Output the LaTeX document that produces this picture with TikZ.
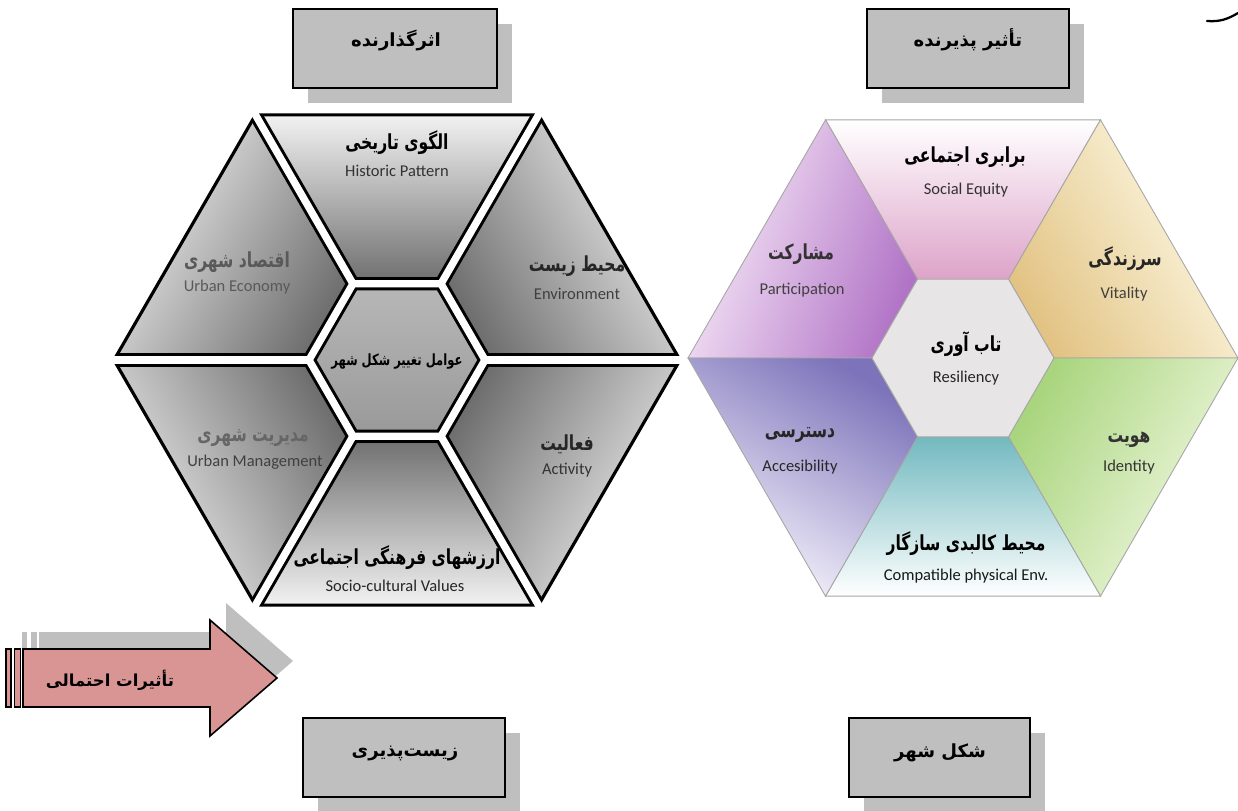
\documentclass[tikz,border=0pt]{standalone}
\usepackage{fontspec}
\setmainfont{Carlito}
\newfontfamily\fa[Script=Arabic]{DejaVu Sans}
\newfontfamily\fan[Script=Arabic, FakeStretch=0.75]{DejaVu Sans}
\TeXXeTstate=1
\usetikzlibrary{calc,shadows}
\definecolor{boxgray}{HTML}{BFBFBF}
\definecolor{arrowpink}{HTML}{D99594}
\definecolor{lgLight}{HTML}{F2F2F2}
\definecolor{lgDark}{HTML}{6E6E6E}
\definecolor{rPink}{HTML}{DDA3C9}
\definecolor{rPinkMid}{HTML}{F8E2F0}
\definecolor{rPurpleL}{HTML}{FBF0FB}
\definecolor{rPurpleD}{HTML}{B173C6}
\definecolor{rTanL}{HTML}{FFFDEB}
\definecolor{rTanD}{HTML}{E2C384}
\definecolor{rGreenL}{HTML}{F5FAE6}
\definecolor{rGreenD}{HTML}{A9D57E}
\definecolor{rTealD}{HTML}{72B9BF}
\definecolor{rTealM}{HTML}{C8E8EC}
\definecolor{rBlueL}{HTML}{FBF8FE}
\definecolor{rBlueD}{HTML}{7C73BA}
\definecolor{rCenter}{HTML}{E7E5E5}
\begin{document}
\begin{tikzpicture}[x=0.02cm,y=-0.02cm,
  box/.style={draw=black, line width=1.1pt, fill=boxgray, inner sep=0pt,
    drop shadow={shadow xshift=0.3cm, shadow yshift=-0.3cm, fill=boxgray, opacity=1}},
  boxtext/.style={font=\fa\bfseries\fontsize{10.3}{12}\selectfont, inner sep=0pt},
  arrowtext/.style={font=\fa\bfseries\fontsize{9.4}{12}\selectfont, inner sep=0pt},
  fatitle/.style={font=\fan\bfseries\fontsize{11.8}{13}\selectfont, inner sep=0pt},
  fasmall/.style={font=\fan\bfseries\fontsize{8.8}{10}\selectfont, inner sep=0pt},
  en/.style={font=\fontsize{9.4}{11}\selectfont, inner sep=0pt},
  lpiece/.style={top color=lgLight, bottom color=lgDark},
  rline/.style={draw=black!35, line width=0.5pt}
]
\useasboundingbox (0,0) rectangle (1238,811);

% ---------------- boxes ----------------
\node[box, minimum width=4.08cm, minimum height=1.58cm] (bTL) at (395,48.5) {};
\node[boxtext] (tTL) at (396,40) {\beginR اثرگذارنده\endR};
\node[box, minimum width=4.04cm, minimum height=1.58cm] (bTR) at (968,48.5) {};
\node[boxtext] (tTR) at (968,40) {\beginR تأثیر پذیرنده\endR};
\node[box, minimum width=4.04cm, minimum height=1.58cm] (bBL) at (404,757.5) {};
\node[boxtext] (tBL) at (405,753) {\beginR زیست‌پذیری\endR};
\node[box, minimum width=3.62cm, minimum height=1.58cm] (bBR) at (939.5,757.5) {};
\node[boxtext] (tBR) at (940,753) {\beginR شکل شهر\endR};

% small curve top right
\draw[line width=1.3pt, line cap=round] (1207,21) .. controls (1220,22) and (1228,19) .. (1238,13);

% ---------------- left hexagon ----------------
\coordinate (L) at (397,360);
\foreach \i in {0,...,5}{
  \coordinate (LO\i) at ($(L)+(\i*60:283)$);
  \coordinate (LI\i) at ($(L)+(\i*60:88)$);
  \coordinate (LX\i) at ($(L)+(\i*60:300)$);
}
\shade[lpiece, shading angle=0]    (LO4)--(LO5)--(LI5)--(LI4)--cycle;
\shade[lpiece, shading angle=60]   (LO3)--(LO4)--(LI4)--(LI3)--cycle;
\shade[lpiece, shading angle=-60]  (LO5)--(LO0)--(LI0)--(LI5)--cycle;
\shade[lpiece, shading angle=-120] (LO0)--(LO1)--(LI1)--(LI0)--cycle;
\shade[lpiece, shading angle=180]  (LO1)--(LO2)--(LI2)--(LI1)--cycle;
\shade[lpiece, shading angle=120]  (LO2)--(LO3)--(LI3)--(LI2)--cycle;
\shade[top color=black!28, bottom color=black!40] (LI0)--(LI1)--(LI2)--(LI3)--(LI4)--(LI5)--cycle;
\draw[black, line width=1.8pt, line join=miter] (LO0)--(LO1)--(LO2)--(LO3)--(LO4)--(LO5)--cycle;
\begin{scope}
  \clip (LO0)--(LO1)--(LO2)--(LO3)--(LO4)--(LO5)--cycle;
  \draw[black, line width=7.6pt] (LI0)--(LI1)--(LI2)--(LI3)--(LI4)--(LI5)--cycle;
  \foreach \i in {0,...,5}{ \draw[black, line width=7.6pt] (LI\i)--(LX\i); }
\end{scope}
\draw[white, line width=4.2pt] (LI0)--(LI1)--(LI2)--(LI3)--(LI4)--(LI5)--cycle;
\foreach \i in {0,...,5}{ \draw[white, line width=4.2pt] (LI\i)--(LX\i); }

\node[fatitle] (l1a) at (397,143) {\beginR الگوی تاریخی\endR};
\node[en, text=black!80] (l1b) at (397,171) {Historic Pattern};
\node[fatitle, text=black!65] (l2a) at (237,262) {\beginR اقتصاد شهری\endR};
\node[en, text=black!65] (l2b) at (237,287) {Urban Economy};
\node[fatitle, text=black!85] (l3a) at (577,266) {\beginR محیط زیست\endR};
\node[en, text=black!75] (l3b) at (577,294) {Environment};
\node[fasmall] (l4a) at (397,362) {\beginR عوامل تغییر شکل شهر\endR};
\node[fatitle, text=black!60] (l5a) at (253,438) {\beginR مدیریت شهری\endR};
\node[en, text=black!75] (l5b) at (255,462) {Urban Management};
\node[fatitle, text=black!85] (l6a) at (567,444) {\beginR فعالیت\endR};
\node[en, text=black!80] (l6b) at (567,470) {Activity};
\node[fatitle] (l7a) at (397,558) {\beginR ارزشهای فرهنگی اجتماعی\endR};
\node[en, text=black!85] (l7b) at (395,586) {Socio-cultural Values};

% ---------------- right hexagon ----------------
\coordinate (R) at (963,358);
\foreach \i in {0,...,5}{
  \coordinate (RO\i) at ($(R)+(\i*60:275)$);
  \coordinate (RI\i) at ($(R)+(\i*60:91)$);
}
\shade[rline, top color=white, middle color=rPinkMid, bottom color=rPink, shading angle=0] (RO4)--(RO5)--(RI5)--(RI4)--cycle;
\shade[rline, top color=rPurpleL, bottom color=rPurpleD, shading angle=70] (RO3)--(RO4)--(RI4)--(RI3)--cycle;
\shade[rline, top color=rTanL, bottom color=rTanD, shading angle=-60] (RO5)--(RO0)--(RI0)--(RI5)--cycle;
\shade[rline, top color=rGreenL, bottom color=rGreenD, shading angle=-120] (RO0)--(RO1)--(RI1)--(RI0)--cycle;
\shade[rline, top color=white, middle color=rTealM, bottom color=rTealD, shading angle=180] (RO1)--(RO2)--(RI2)--(RI1)--cycle;
\shade[rline, top color=rBlueL, bottom color=rBlueD, shading angle=150] (RO2)--(RO3)--(RI3)--(RI2)--cycle;
\filldraw[rline, fill=rCenter] (RI0)--(RI1)--(RI2)--(RI3)--(RI4)--(RI5)--cycle;

\node[fatitle] (r1a) at (965,157) {\beginR برابری اجتماعی\endR};
\node[en, text=black!80] (r1b) at (966,190) {Social Equity};
\node[fatitle, text=black!80] (r2a) at (801,254) {\beginR مشارکت\endR};
\node[en, text=black!75] (r2b) at (802,290) {Participation};
\node[fatitle, text=black!85] (r3a) at (1125,259) {\beginR سرزندگی\endR};
\node[en, text=black!75] (r3b) at (1124,294) {Vitality};
\node[fatitle] (r4a) at (966,344) {\beginR تاب آوری\endR};
\node[en, text=black!85] (r4b) at (966,378) {Resiliency};
\node[fatitle, text=black!85] (r5a) at (800,435) {\beginR دسترسی\endR};
\node[en, text=black!85] (r5b) at (800,467) {Accesibility};
\node[fatitle, text=black!80] (r6a) at (1129,440) {\beginR هویت\endR};
\node[en, text=black!80] (r6b) at (1129,467) {Identity};
\node[fatitle] (r7a) at (966,544) {\beginR محیط کالبدی سازگار\endR};
\node[en, text=black!90] (r7b) at (966,576) {Compatible physical Env.};

% ---------------- arrow ----------------
\begin{scope}[shift={(16,-17)}]
  \fill[boxgray] (23,649)--(210,649)--(210,620)--(277,678)--(210,736)--(210,707)--(23,707)--cycle;
  \fill[boxgray] (6,649) rectangle (11,707);
  \fill[boxgray] (14.5,649) rectangle (20.5,707);
\end{scope}
\filldraw[fill=arrowpink, draw=black, line width=0.9pt, line join=miter]
  (23,649)--(210,649)--(210,620)--(277,678)--(210,736)--(210,707)--(23,707)--cycle;
\filldraw[fill=arrowpink, draw=black, line width=0.9pt] (6,649) rectangle (11,707);
\filldraw[fill=arrowpink, draw=black, line width=0.9pt] (14.5,649) rectangle (20.5,707);
\node[arrowtext] (tArrow) at (110,680) {\beginR تأثیرات احتمالی\endR};
\end{tikzpicture}
\end{document}
